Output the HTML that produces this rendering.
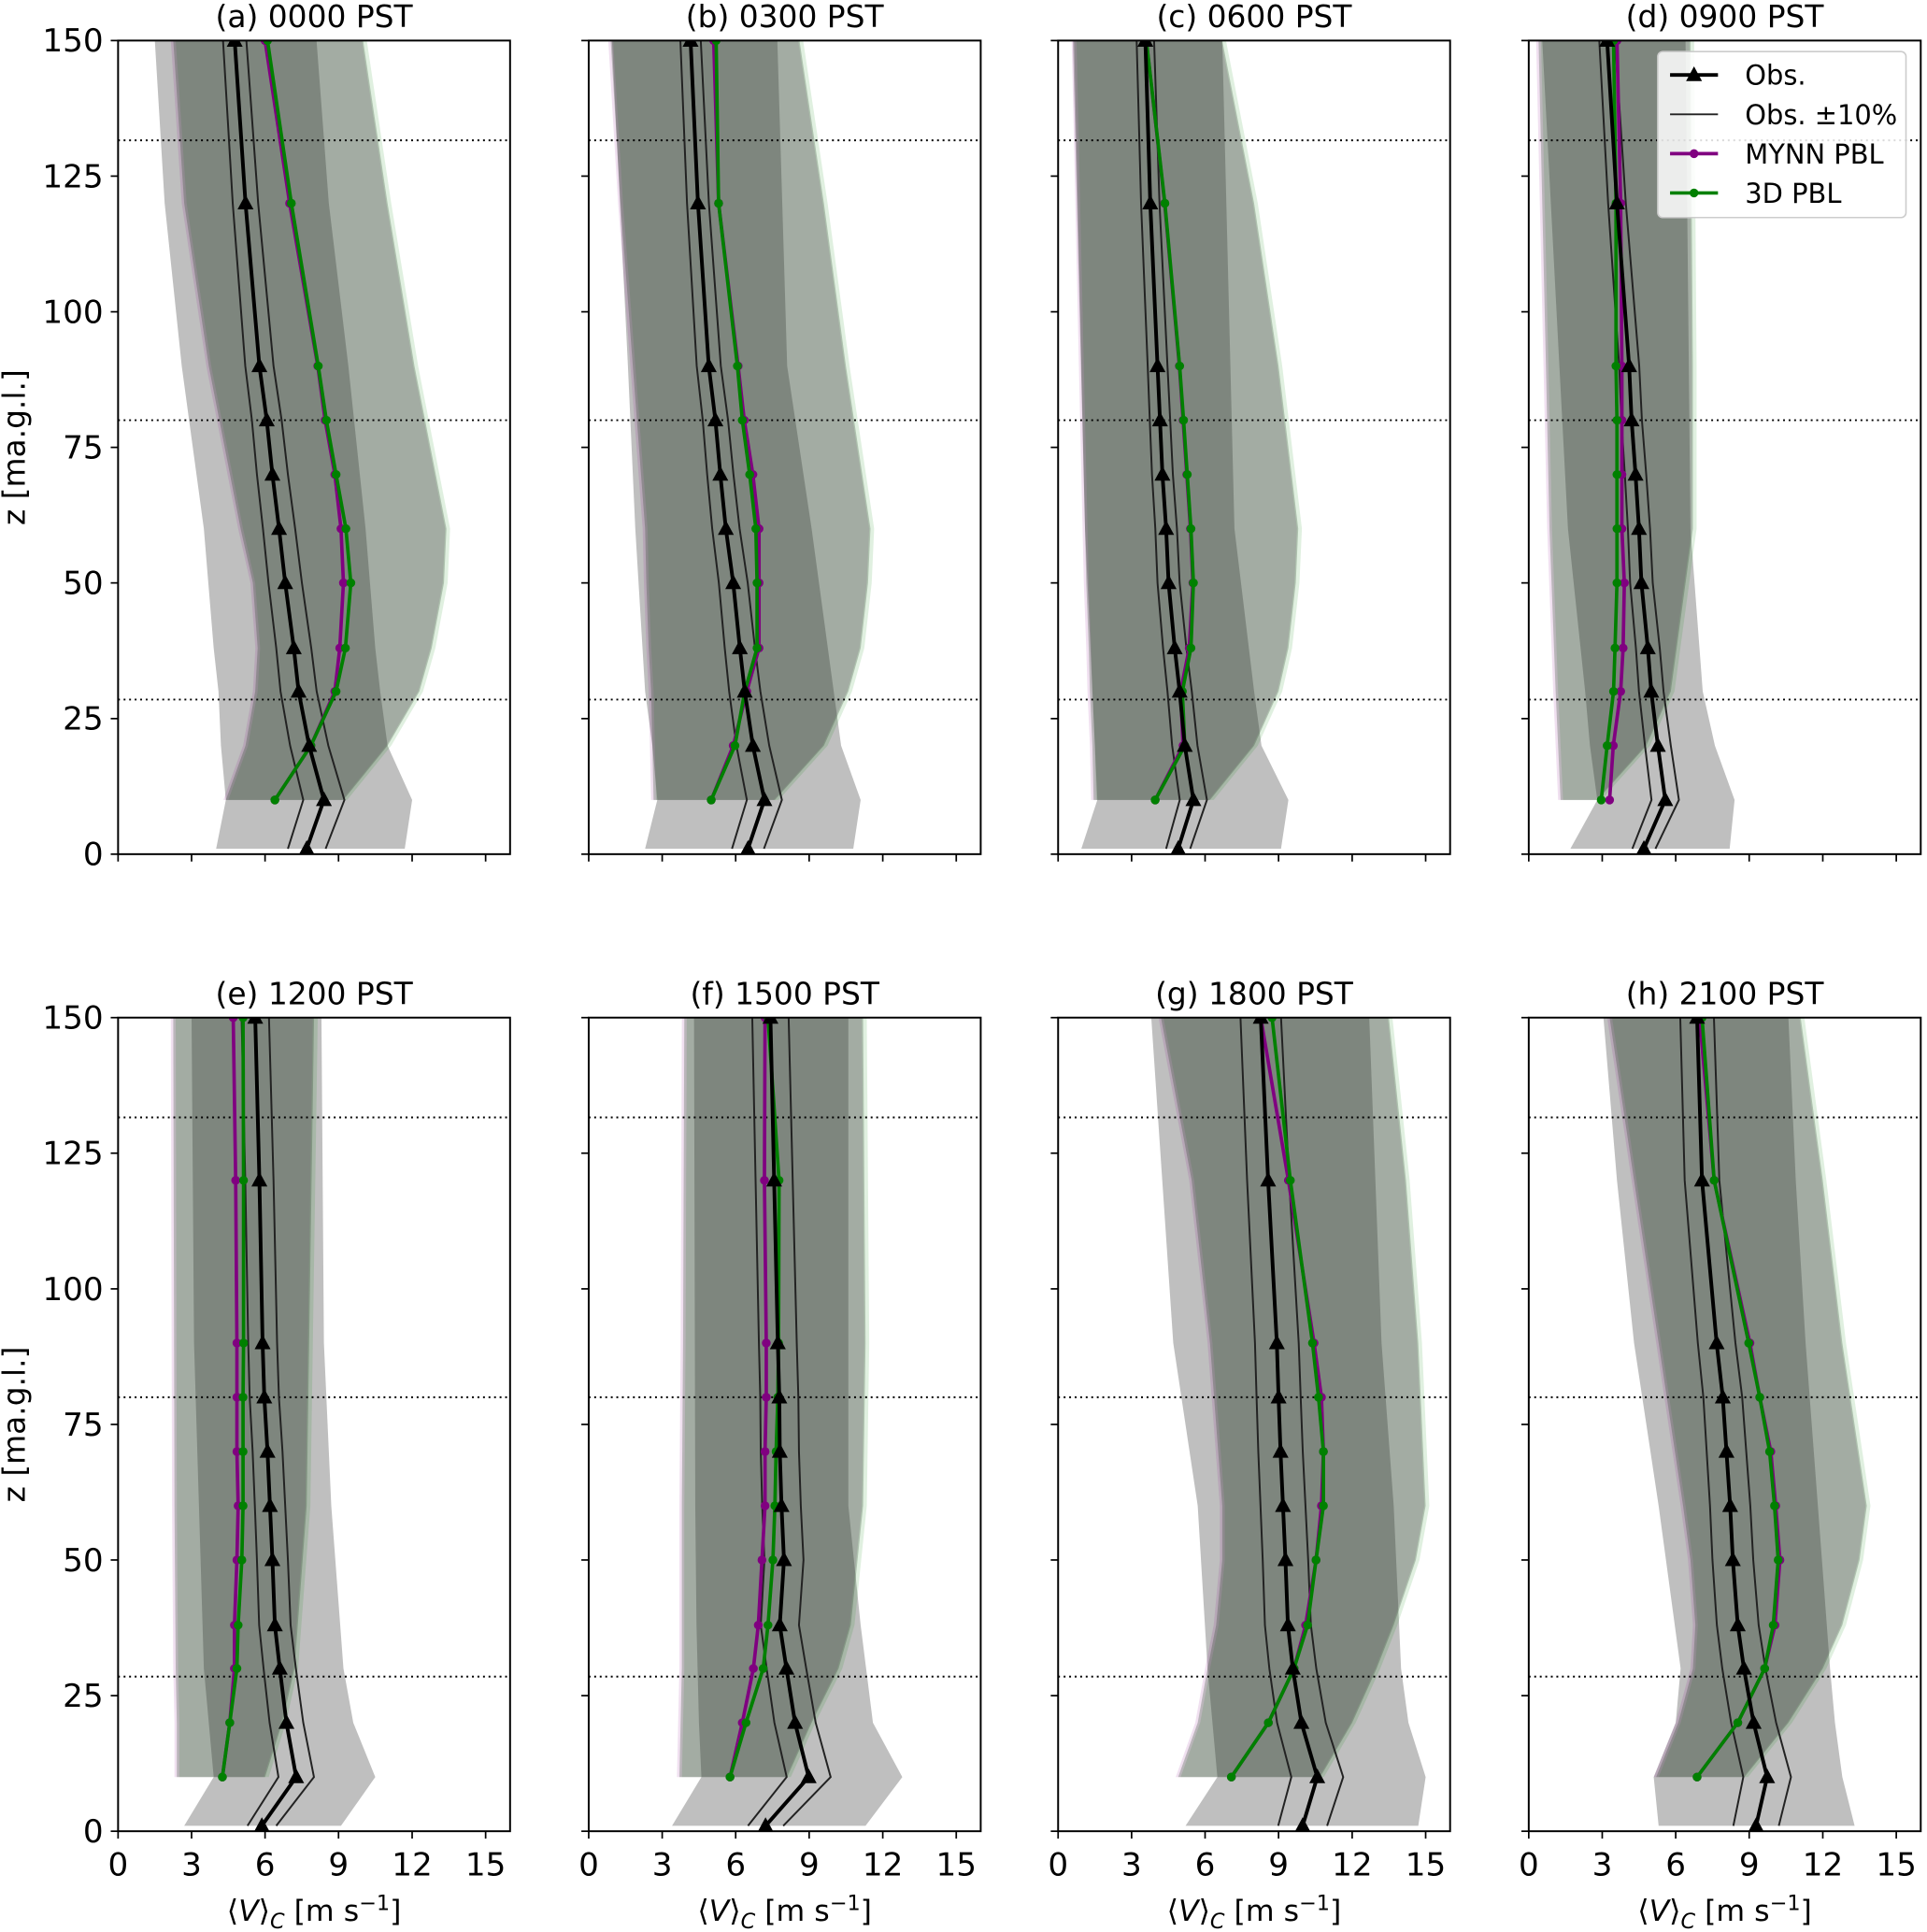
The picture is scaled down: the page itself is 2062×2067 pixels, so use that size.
<!DOCTYPE html>
<html><head><meta charset="utf-8">
<style>html,body{margin:0;padding:0;background:#fff}svg{display:block}</style>
</head><body>
<svg id="s" xmlns="http://www.w3.org/2000/svg" width="2062" height="2067" viewBox="0 0 1568 1572" font-family="'DejaVu Sans','Liberation Sans',sans-serif"></svg>
<script>
const S=document.getElementById('s');let out='';
const W=319,H=662;
const Zo=[1,10,20,30,38,50,60,70,80,90,120,150];
const Zm=[10,20,30,38,50,60,70,80,90,120,150];
const P=[
{L:96,T:33,t:'(a) 0000 PST',
obs:[7.7,8.4,7.8,7.37,7.17,6.82,6.57,6.3,6.07,5.77,5.2,4.76],
g:[6.4,7.87,8.9,9.28,9.5,9.3,8.9,8.5,8.17,7.07,6.1],
p:[6.4,7.87,8.85,9.05,9.2,9.1,8.85,8.45,8.15,7.0,6.0],
ob:[[1,4.0,11.7],[10,4.4,12.0],[20,4.2,11.0],[30,4.1,10.7],[38,3.9,10.5],[60,3.5,10.1],[90,2.6,9.4],[120,1.9,8.6],[150,1.5,8.1]],
mb:[[10,4.4,9.2],[20,5.2,11.0],[30,5.6,12.3],[38,5.7,12.8],[50,5.5,13.3],[60,5.0,13.4],[90,3.7,12.1],[120,2.7,11.0],[150,2.25,10.0]]},
{L:479,T:33,t:'(b) 0300 PST',
obs:[6.5,7.17,6.7,6.37,6.17,5.9,5.6,5.37,5.17,4.9,4.46,4.16],
g:[5.0,5.97,6.37,6.87,6.87,6.82,6.57,6.27,6.07,5.3,5.2],
p:[5.0,5.9,6.45,6.95,6.95,6.95,6.7,6.35,6.1,5.3,5.1],
ob:[[1,2.3,10.8],[10,2.8,11.1],[20,2.6,10.3],[30,2.3,10.0],[60,1.9,9.1],[90,1.6,8.1],[150,0.95,7.7]],
mb:[[10,2.65,7.6],[20,2.6,9.6],[30,2.55,10.6],[38,2.45,11.1],[50,2.35,11.4],[60,2.3,11.5],[90,1.8,10.5],[120,1.3,9.6],[150,0.9,8.6]]},
{L:861,T:33,t:'(c) 0600 PST',
obs:[4.9,5.52,5.17,4.96,4.76,4.51,4.41,4.26,4.16,4.06,3.76,3.56],
g:[3.96,5.17,5.07,5.42,5.52,5.42,5.27,5.12,4.96,4.36,3.6],
p:[3.96,5.1,5.0,5.35,5.5,5.4,5.25,5.1,4.95,4.35,3.6],
ob:[[1,0.95,9.1],[10,1.6,9.4],[20,1.5,8.3],[30,1.4,8.0],[60,1.1,7.2],[150,0.6,6.7]],
mb:[[10,1.45,6.2],[20,1.4,8.0],[30,1.3,9.0],[38,1.25,9.4],[50,1.15,9.7],[60,1.1,9.8],[90,0.95,9.0],[120,0.8,8.0],[150,0.65,6.7]]},
{L:1244,T:33,t:'(d) 0900 PST',
obs:[4.7,5.57,5.27,5.0,4.86,4.6,4.5,4.36,4.2,4.1,3.6,3.2],
g:[2.96,3.2,3.46,3.52,3.6,3.6,3.6,3.6,3.56,3.56,3.46],
p:[3.3,3.45,3.75,3.85,3.9,3.8,3.8,3.8,3.8,3.75,3.6],
ob:[[1,1.7,8.2],[10,2.8,8.4],[20,2.5,7.6],[30,2.3,7.1],[60,1.6,6.6],[150,0.55,6.4]],
mb:[[10,1.3,2.8],[20,1.2,4.8],[30,1.1,5.8],[60,0.85,6.7],[90,0.7,6.7],[150,0.4,6.6]]},
{L:96,T:828,t:'(e) 1200 PST',
obs:[5.87,7.27,6.87,6.6,6.4,6.3,6.2,6.1,5.97,5.9,5.77,5.6],
g:[4.26,4.56,4.85,4.9,5.05,5.1,5.1,5.1,5.12,5.12,5.1],
p:[4.26,4.56,4.75,4.75,4.85,4.9,4.85,4.85,4.85,4.8,4.7],
ob:[[1,2.7,9.1],[10,3.9,10.5],[20,3.7,9.6],[30,3.5,9.2],[60,3.3,8.7],[90,3.1,8.4],[150,3.0,8.3]],
mb:[[10,2.4,6.0],[20,2.4,6.7],[30,2.35,7.2],[60,2.3,7.7],[150,2.25,8.0]]},
{L:479,T:828,t:'(f) 1500 PST',
obs:[7.22,8.98,8.42,8.07,7.8,7.97,7.87,7.8,7.78,7.72,7.57,7.42],
g:[5.77,6.42,7.12,7.32,7.52,7.6,7.65,7.72,7.75,7.77,7.32],
p:[5.77,6.27,6.72,6.92,7.07,7.2,7.2,7.25,7.25,7.17,7.2],
ob:[[1,3.4,11.3],[10,4.6,12.8],[20,4.5,11.6],[38,4.4,11.1],[60,4.35,10.6],[150,4.3,10.6]],
mb:[[10,3.7,8.1],[20,3.75,9.1],[30,3.8,10.2],[38,3.8,10.7],[60,3.8,11.2],[90,3.85,11.3],[150,3.9,11.2]]},
{L:861,T:828,t:'(g) 1800 PST',
obs:[9.98,10.58,9.93,9.58,9.38,9.28,9.18,9.08,9.0,8.93,8.57,8.27],
g:[7.07,8.58,9.63,10.18,10.53,10.83,10.83,10.63,10.38,9.48,8.73],
p:[7.07,8.58,9.63,10.1,10.53,10.75,10.83,10.75,10.45,9.4,8.27],
ob:[[1,5.2,14.7],[10,6.5,15.0],[20,6.3,14.3],[30,6.1,14.0],[60,5.7,13.7],[90,4.7,13.2],[150,3.8,12.7]],
mb:[[10,4.9,10.7],[20,5.7,12.0],[30,6.1,13.0],[38,6.45,13.7],[50,6.7,14.6],[60,6.7,15.0],[90,6.2,14.7],[120,5.45,14.2],[150,4.2,13.5]]},
{L:1244,T:828,t:'(h) 2100 PST',
obs:[9.28,9.73,9.18,8.78,8.53,8.33,8.22,8.07,7.92,7.67,7.07,6.87],
g:[6.87,8.53,9.63,9.98,10.18,10.03,9.83,9.43,8.98,7.57,7.07],
p:[6.87,8.53,9.63,10.05,10.25,10.08,9.88,9.43,9.03,7.57,6.97],
ob:[[1,5.3,13.3],[10,5.1,12.8],[20,6.0,12.5],[30,6.2,12.3],[60,5.3,11.8],[90,4.3,11.3],[120,3.6,10.9],[150,3.05,10.6]],
mb:[[10,5.2,8.8],[20,6.1,10.6],[30,6.7,12.0],[38,6.8,12.8],[50,6.6,13.5],[60,6.3,13.8],[90,5.3,12.8],[120,4.3,12.0],[150,3.3,11.1]]}
];
P.forEach((p,i)=>{
 const X=v=>(p.L+v*W/16).toFixed(1), Y=z=>(p.T+(150-z)*H/150).toFixed(1);
 const band=(arr,dx1,dx2)=>{let a=arr.map(r=>X(r[1]+dx1)+','+Y(r[0])),b=arr.slice().reverse().map(r=>X(r[2]+dx2)+','+Y(r[0]));return a.concat(b).join(' ');};
 out+=`<defs><clipPath id="c${i}"><rect x="${p.L}" y="${p.T}" width="${W}" height="${H}"/></clipPath></defs><g clip-path="url(#c${i})">`;
 out+=`<polygon points="${band(p.ob,0,0)}" fill="rgba(128,128,128,0.5)"/>`;
 out+=`<polygon points="${band(p.mb,-0.1,-0.05)}" fill="rgba(128,0,128,0.12)"/>`;
 out+=`<polygon points="${band(p.mb,0.1,0.15)}" fill="rgba(0,128,0,0.12)"/>`;
 out+=`<polygon points="${band(p.mb,0,0)}" fill="rgba(23,50,23,0.25)"/>`;
 [131.6,80.0,28.5].forEach(z=>out+=`<line x1="${p.L}" x2="${p.L+W}" y1="${Y(z)}" y2="${Y(z)}" stroke="#000" stroke-width="1.5" stroke-dasharray="1.5,3"/>`);
 const pl=(xs,zs,f)=>xs.map((v,k)=>X(v*f)+','+Y(zs[k])).join(' ');
 out+=`<polyline points="${pl(p.obs,Zo,0.9)}" fill="none" stroke="#222" stroke-width="1.5"/>`;
 out+=`<polyline points="${pl(p.obs,Zo,1.1)}" fill="none" stroke="#222" stroke-width="1.5"/>`;
 out+=`<polyline points="${pl(p.p,Zm,1)}" fill="none" stroke="#800080" stroke-width="2.8"/>`;
 p.p.forEach((v,k)=>out+=`<circle cx="${X(v)}" cy="${Y(Zm[k])}" r="3.6" fill="#800080"/>`);
 out+=`<polyline points="${pl(p.g,Zm,1)}" fill="none" stroke="#008000" stroke-width="2.8"/>`;
 p.g.forEach((v,k)=>out+=`<circle cx="${X(v)}" cy="${Y(Zm[k])}" r="3.6" fill="#008000"/>`);
 out+=`<polyline points="${pl(p.obs,Zo,1)}" fill="none" stroke="#000" stroke-width="3"/>`;
 p.obs.forEach((v,k)=>{const cx=+X(v),cy=+Y(Zo[k]);out+=`<polygon points="${cx},${cy-7} ${cx-6.5},${cy+5} ${cx+6.5},${cy+5}" fill="#000"/>`;});
 out+=`</g>`;
 out+=`<rect x="${p.L}" y="${p.T}" width="${W}" height="${H}" fill="none" stroke="#000" stroke-width="1.5"/>`;
 out+=`<text x="${p.L+W/2}" y="${p.T-11}" font-size="25" text-anchor="middle">${p.t}</text>`;
 const bot=p.T>500;
 for(let v=0;v<=15;v+=3){const x=X(v);out+=`<line x1="${x}" x2="${x}" y1="${p.T+H}" y2="${p.T+H+6}" stroke="#000" stroke-width="1.3"/>`;
  if(bot) out+=`<text x="${x}" y="${p.T+H+36}" font-size="26" text-anchor="middle">${v}</text>`;}
 for(let z=0;z<=150;z+=25){const y=Y(z);out+=`<line x1="${p.L-6}" x2="${p.L}" y1="${y}" y2="${y}" stroke="#000" stroke-width="1.3"/>`;
  if(p.L<100) out+=`<text x="${p.L-12}" y="${+y+9}" font-size="26" text-anchor="end">${z}</text>`;}
 if(bot) out+=`<text x="${p.L+W/2}" y="1563" font-size="24" text-anchor="middle">⟨<tspan font-style="italic">V</tspan>⟩<tspan font-style="italic" font-size="17" dy="6">C</tspan><tspan dy="-6"> [m s</tspan><tspan font-size="17" dy="-9">−1</tspan><tspan dy="9">]</tspan></text>`;
 if(p.L<100) out+=`<text transform="translate(20,${p.T+H/2}) rotate(-90)" font-size="25" text-anchor="middle">z [ma.g.l.]</text>`;
});
// legend
out+=`<rect x="1349" y="42" width="202" height="135" rx="4" fill="rgba(255,255,255,0.85)" stroke="#ccc" stroke-width="1.2"/>`;
const ly=[61,93,125,157];
out+=`<line x1="1359" x2="1398" y1="${ly[0]}" y2="${ly[0]}" stroke="#000" stroke-width="3"/><polygon points="1378.5,54 1372,66 1385,66" fill="#000"/>`;
out+=`<line x1="1359" x2="1398" y1="${ly[1]}" y2="${ly[1]}" stroke="#222" stroke-width="1.4"/>`;
out+=`<line x1="1359" x2="1398" y1="${ly[2]}" y2="${ly[2]}" stroke="#800080" stroke-width="2.8"/><circle cx="1378.5" cy="${ly[2]}" r="3.6" fill="#800080"/>`;
out+=`<line x1="1359" x2="1398" y1="${ly[3]}" y2="${ly[3]}" stroke="#008000" stroke-width="2.8"/><circle cx="1378.5" cy="${ly[3]}" r="3.6" fill="#008000"/>`;
['Obs.','Obs. ±10%','MYNN PBL','3D PBL'].forEach((t,k)=>out+=`<text x="1420" y="${ly[k]+8}" font-size="22">${t}</text>`);
S.innerHTML=out;
</script>
</body></html>
